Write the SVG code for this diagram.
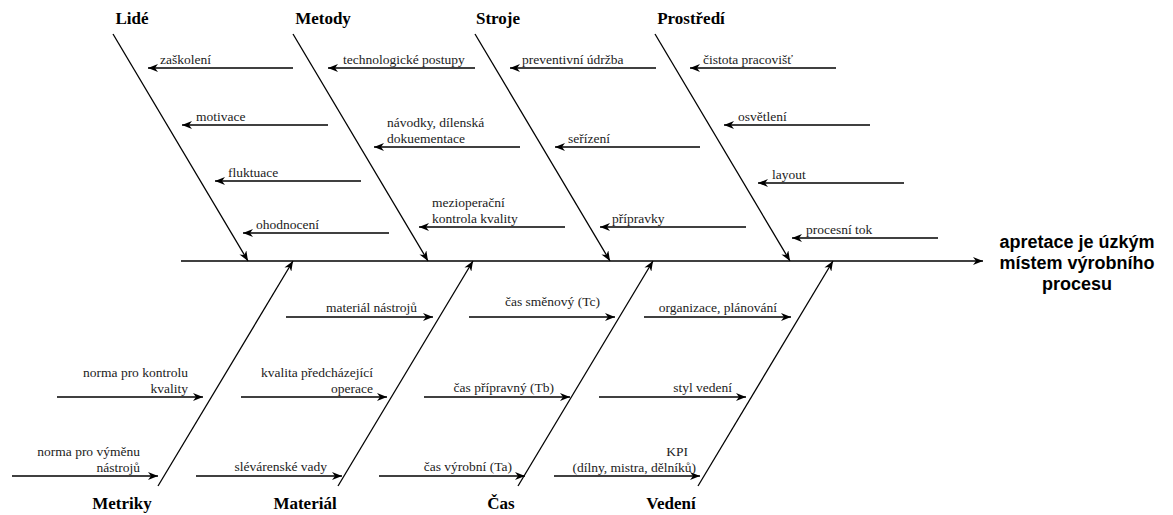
<svg xmlns="http://www.w3.org/2000/svg" width="1173" height="515" viewBox="0 0 1173 515">
  <style>
    .ln { stroke: #000; stroke-width: 1.3; fill: none; }
    .br { stroke-width: 1.5; }
    .arr { marker-end: url(#arrow); }
    .cat { font-family: "Liberation Serif", "Times New Roman", serif; font-weight: bold; font-size: 17px; fill: #000; text-anchor: middle; }
    .sub { font-family: "Liberation Serif", "Times New Roman", serif; font-size: 13.5px; fill: #222; }
    .end { text-anchor: end; }
    .head { font-family: "Liberation Sans", Arial, sans-serif; font-weight: bold; font-size: 18px; fill: #000; text-anchor: middle; }
  </style>
  <defs>
    <marker id="arrow" viewBox="0 0 10 8" refX="10" refY="4" markerWidth="10" markerHeight="8" markerUnits="userSpaceOnUse" orient="auto">
      <path d="M0,0 L10,4 L0,8 L3,4 Z" fill="#000"/>
    </marker>
  </defs>
  <rect width="1173" height="515" fill="#fff"/>

  <!-- spine, bones and sub-cause arrows -->
  <g id="connectors">
    <line class="ln arr" x1="181" y1="261" x2="983" y2="261"/>
    <!-- upper bones -->
    <line class="ln arr" x1="113" y1="34" x2="248" y2="261"/>
    <line class="ln arr" x1="293" y1="34" x2="428" y2="261"/>
    <line class="ln arr" x1="475" y1="34" x2="610" y2="261"/>
    <line class="ln arr" x1="655" y1="34" x2="790" y2="261"/>
    <!-- lower bones -->
    <line class="ln arr" x1="158" y1="486" x2="293" y2="261"/>
    <line class="ln arr" x1="338" y1="486" x2="473" y2="261"/>
    <line class="ln arr" x1="518" y1="486" x2="653" y2="261"/>
    <line class="ln arr" x1="698" y1="486" x2="833" y2="261"/>
    <!-- Lidé -->
    <line class="ln br arr" x1="293" y1="68" x2="148" y2="68"/>
    <line class="ln br arr" x1="328" y1="125" x2="182" y2="125"/>
    <line class="ln br arr" x1="361" y1="181" x2="215" y2="181"/>
    <line class="ln br arr" x1="389" y1="233" x2="243" y2="233"/>
    <!-- Metody -->
    <line class="ln br arr" x1="475" y1="68" x2="328" y2="68"/>
    <line class="ln br arr" x1="520" y1="147" x2="374" y2="147"/>
    <line class="ln br arr" x1="565" y1="227" x2="419" y2="227"/>
    <!-- Stroje -->
    <line class="ln br arr" x1="656" y1="68" x2="510" y2="68"/>
    <line class="ln br arr" x1="700" y1="147" x2="555" y2="147"/>
    <line class="ln br arr" x1="746" y1="227" x2="600" y2="227"/>
    <!-- Prostředí -->
    <line class="ln br arr" x1="836" y1="68" x2="690" y2="68"/>
    <line class="ln br arr" x1="870" y1="125" x2="724" y2="125"/>
    <line class="ln br arr" x1="904" y1="183" x2="758" y2="183"/>
    <line class="ln br arr" x1="938" y1="238" x2="792" y2="238"/>
    <!-- Metriky -->
    <line class="ln br arr" x1="57" y1="397" x2="203" y2="397"/>
    <line class="ln br arr" x1="12" y1="476" x2="158" y2="476"/>
    <!-- Materiál -->
    <line class="ln br arr" x1="286" y1="317" x2="433" y2="317"/>
    <line class="ln br arr" x1="241" y1="397" x2="387" y2="397"/>
    <line class="ln br arr" x1="196" y1="476" x2="342" y2="476"/>
    <!-- Čas -->
    <line class="ln br arr" x1="469" y1="317" x2="615" y2="317"/>
    <line class="ln br arr" x1="424" y1="397" x2="570" y2="397"/>
    <line class="ln br arr" x1="379" y1="476" x2="525" y2="476"/>
    <!-- Vedení -->
    <line class="ln br arr" x1="644" y1="317" x2="791" y2="317"/>
    <line class="ln br arr" x1="599" y1="397" x2="746" y2="397"/>
    <line class="ln br arr" x1="554" y1="476" x2="700" y2="476"/>
  </g>

  <!-- effect -->
  <g id="problem">
    <text class="head" x="1077" y="248">apretace je úzkým</text>
    <text class="head" x="1077" y="269">místem výrobního</text>
    <text class="head" x="1077" y="290">procesu</text>
  </g>

  <!-- cause categories -->
  <g id="cat-lide"><text class="cat" x="132" y="24">Lidé</text></g>
  <g id="cat-metody"><text class="cat" x="323" y="24">Metody</text></g>
  <g id="cat-stroje"><text class="cat" x="498" y="24">Stroje</text></g>
  <g id="cat-prostredi"><text class="cat" x="691" y="24">Prostředí</text></g>
  <g id="cat-metriky"><text class="cat" x="122" y="509">Metriky</text></g>
  <g id="cat-material"><text class="cat" x="305" y="509">Materiál</text></g>
  <g id="cat-cas"><text class="cat" x="501" y="509">Čas</text></g>
  <g id="cat-vedeni"><text class="cat" x="671" y="509">Vedení</text></g>

  <!-- sub-causes: upper side -->
  <g id="sub-zaskoleni"><text class="sub" x="160" y="64">zaškolení</text></g>
  <g id="sub-motivace"><text class="sub" x="196" y="121">motivace</text></g>
  <g id="sub-fluktuace"><text class="sub" x="228" y="177">fluktuace</text></g>
  <g id="sub-ohodnoceni"><text class="sub" x="256" y="229">ohodnocení</text></g>

  <g id="sub-technologicke"><text class="sub" x="343" y="64">technologické postupy</text></g>
  <g id="sub-navodky">
    <text class="sub" x="387" y="127">návodky, dílenská</text>
    <text class="sub" x="387" y="143">dokuementace</text>
  </g>
  <g id="sub-mezioperacni">
    <text class="sub" x="432" y="207">mezioperační</text>
    <text class="sub" x="432" y="223">kontrola kvality</text>
  </g>

  <g id="sub-preventivni"><text class="sub" x="522" y="64">preventivní údržba</text></g>
  <g id="sub-serizeni"><text class="sub" x="568" y="143">seřízení</text></g>
  <g id="sub-pripravky"><text class="sub" x="612" y="223">přípravky</text></g>

  <g id="sub-cistota"><text class="sub" x="703" y="64">čistota pracovišť</text></g>
  <g id="sub-osvetleni"><text class="sub" x="738" y="121">osvětlení</text></g>
  <g id="sub-layout"><text class="sub" x="772" y="179">layout</text></g>
  <g id="sub-procesni"><text class="sub" x="806" y="234">procesní tok</text></g>

  <!-- sub-causes: lower side -->
  <g id="sub-norma-kontrola">
    <text class="sub end" x="188" y="377">norma pro kontrolu</text>
    <text class="sub end" x="188" y="393">kvality</text>
  </g>
  <g id="sub-norma-vymena">
    <text class="sub end" x="140" y="456">norma pro výměnu</text>
    <text class="sub end" x="140" y="472">nástrojů</text>
  </g>

  <g id="sub-material-nastroju"><text class="sub end" x="417" y="312">materiál nástrojů</text></g>
  <g id="sub-kvalita">
    <text class="sub end" x="373" y="377">kvalita předcházející</text>
    <text class="sub end" x="373" y="393">operace</text>
  </g>
  <g id="sub-slevarenske"><text class="sub end" x="327" y="471">slévárenské vady</text></g>

  <g id="sub-cas-smenovy"><text class="sub end" x="600" y="306">čas směnový (Tc)</text></g>
  <g id="sub-cas-pripravny"><text class="sub end" x="554" y="392">čas přípravný (Tb)</text></g>
  <g id="sub-cas-vyrobni"><text class="sub end" x="512" y="471">čas výrobní (Ta)</text></g>

  <g id="sub-organizace"><text class="sub end" x="777" y="312">organizace, plánování</text></g>
  <g id="sub-styl"><text class="sub end" x="732" y="392">styl vedení</text></g>
  <g id="sub-kpi">
    <text class="sub end" x="688" y="456">KPI</text>
    <text class="sub end" x="696" y="472">(dílny, mistra, dělníků)</text>
  </g>
</svg>
